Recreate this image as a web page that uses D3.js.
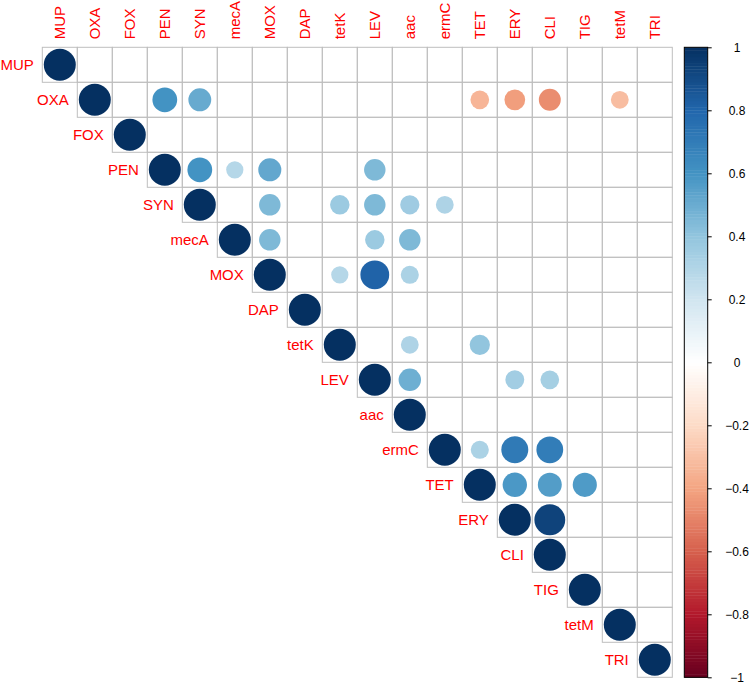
<!DOCTYPE html>
<html><head><meta charset="utf-8">
<script src="https://cdn.jsdelivr.net/npm/d3@7"></script>
<style>body{margin:0;background:#fff}svg{display:block}</style>
</head><body>
<script>
const vars = ["MUP","OXA","FOX","PEN","SYN","mecA","MOX","DAP","tetK","LEV","aac","ermC","TET","ERY","CLI","TIG","tetM","TRI"];
// Off-diagonal correlations (upper triangle); diagonal is 1, others blank
const pairRow = ["OXA","OXA","OXA","OXA","OXA","OXA","PEN","PEN","PEN","PEN","SYN","SYN","SYN","SYN","SYN","mecA","mecA","mecA","MOX","MOX","MOX","tetK","tetK","LEV","LEV","LEV","ermC","ermC","ermC","TET","TET","TET","ERY"];
const pairCol = ["PEN","SYN","TET","ERY","CLI","tetM","SYN","mecA","MOX","LEV","MOX","tetK","LEV","aac","ermC","MOX","LEV","aac","tetK","LEV","aac","aac","TET","aac","ERY","CLI","TET","ERY","CLI","ERY","CLI","TIG","CLI"];
const pairVal = [0.60,0.51,-0.34,-0.42,-0.47,-0.31,0.60,0.29,0.52,0.45,0.45,0.37,0.45,0.36,0.31,0.45,0.37,0.45,0.29,0.81,0.32,0.31,0.40,0.49,0.35,0.34,0.32,0.71,0.70,0.58,0.56,0.57,0.93];
const legendTicks = [1,0.8,0.6,0.4,0.2,0,-0.2,-0.4,-0.6,-0.8,-1];
const palette = ["#67001F","#B2182B","#D6604D","#F4A582","#FDDBC7","#FFFFFF","#D1E5F0","#92C5DE","#4393C3","#2166AC","#053061"];

const W=750,H=685;
const x0=42.3,y0=47.3,cell=35,n=vars.length;
const svg=d3.select("body").append("svg").attr("width",W).attr("height",H);

const pos=d3.scaleBand().domain(vars).range([0,n*cell]).padding(0);
const col=d3.scaleLinear().domain(d3.range(11).map(i=>-1+i*0.2)).range(palette).interpolate(d3.interpolateRgb);
const rScale=d3.scaleSqrt().domain([0,1]).range([0,16]);

const g=svg.append("g").attr("transform",`translate(${x0},${y0})`);
// grid cells (upper triangle)
const cells=[];
vars.forEach((r,i)=>vars.forEach((c,j)=>{if(j>=i)cells.push({r,c});}));
g.selectAll("rect.cell").data(cells).join("rect").attr("class","cell")
 .attr("x",d=>pos(d.c)).attr("y",d=>pos(d.r)).attr("width",cell).attr("height",cell)
 .attr("fill","none").attr("stroke","#BEBEBE").attr("stroke-width",1);

const circ=vars.map(v=>({r:v,c:v,v:1})).concat(pairRow.map((r,i)=>({r,c:pairCol[i],v:pairVal[i]})));
g.selectAll("circle").data(circ).join("circle")
 .attr("cx",d=>pos(d.c)+cell/2).attr("cy",d=>pos(d.r)+cell/2)
 .attr("r",d=>rScale(Math.abs(d.v))).attr("fill",d=>col(d.v));

// row labels
g.selectAll("text.row").data(vars).join("text").attr("class","row")
 .attr("x",d=>pos(d)-8.5).attr("y",d=>pos(d)+cell/2+4.8)
 .attr("text-anchor","end").attr("fill","#FF0000")
 .style("font-family","'Liberation Sans',Arial,sans-serif").style("font-size","15px").text(d=>d);
// column labels
g.selectAll("text.col").data(vars).join("text").attr("class","col")
 .attr("transform",d=>`translate(${pos(d)+cell/2+5.4},-8) rotate(-90)`)
 .attr("text-anchor","start").attr("fill","#FF0000")
 .style("font-family","'Liberation Sans',Arial,sans-serif").style("font-size","15px").text(d=>d);

// color legend
const lx=684.3,lw=23.4;
const ly=d3.scaleLinear().domain([1,-1]).range([y0,y0+n*cell]);
const steps=d3.range(200).map(i=>-1+(i+0.5)*2/200);
const lg=svg.append("g");
lg.selectAll("rect.bar").data(steps).join("rect").attr("class","bar")
 .attr("x",lx).attr("width",lw)
 .attr("y",d=>ly(d+1/200)).attr("height",(ly(-1)-ly(1))/200+0.4)
 .attr("fill",d=>col(d));
lg.append("rect").attr("x",lx).attr("y",ly(1)).attr("width",lw).attr("height",ly(-1)-ly(1))
 .attr("fill","none").attr("stroke","#000").attr("stroke-width",1);
const axis=d3.axisRight(ly).tickValues(legendTicks).tickSize(4).tickPadding(0).tickFormat(d3.format(""));
const ax=lg.append("g").attr("transform",`translate(${lx+lw},0)`).call(axis);
ax.select(".domain").remove();
ax.selectAll(".tick line").attr("stroke","#000");
ax.selectAll(".tick text").attr("x",737-(lx+lw)).attr("text-anchor","middle").attr("dy","0.36em")
 .attr("fill","#000").style("font-family","'Liberation Sans',Arial,sans-serif").style("font-size","12px");
</script>
</body></html>
